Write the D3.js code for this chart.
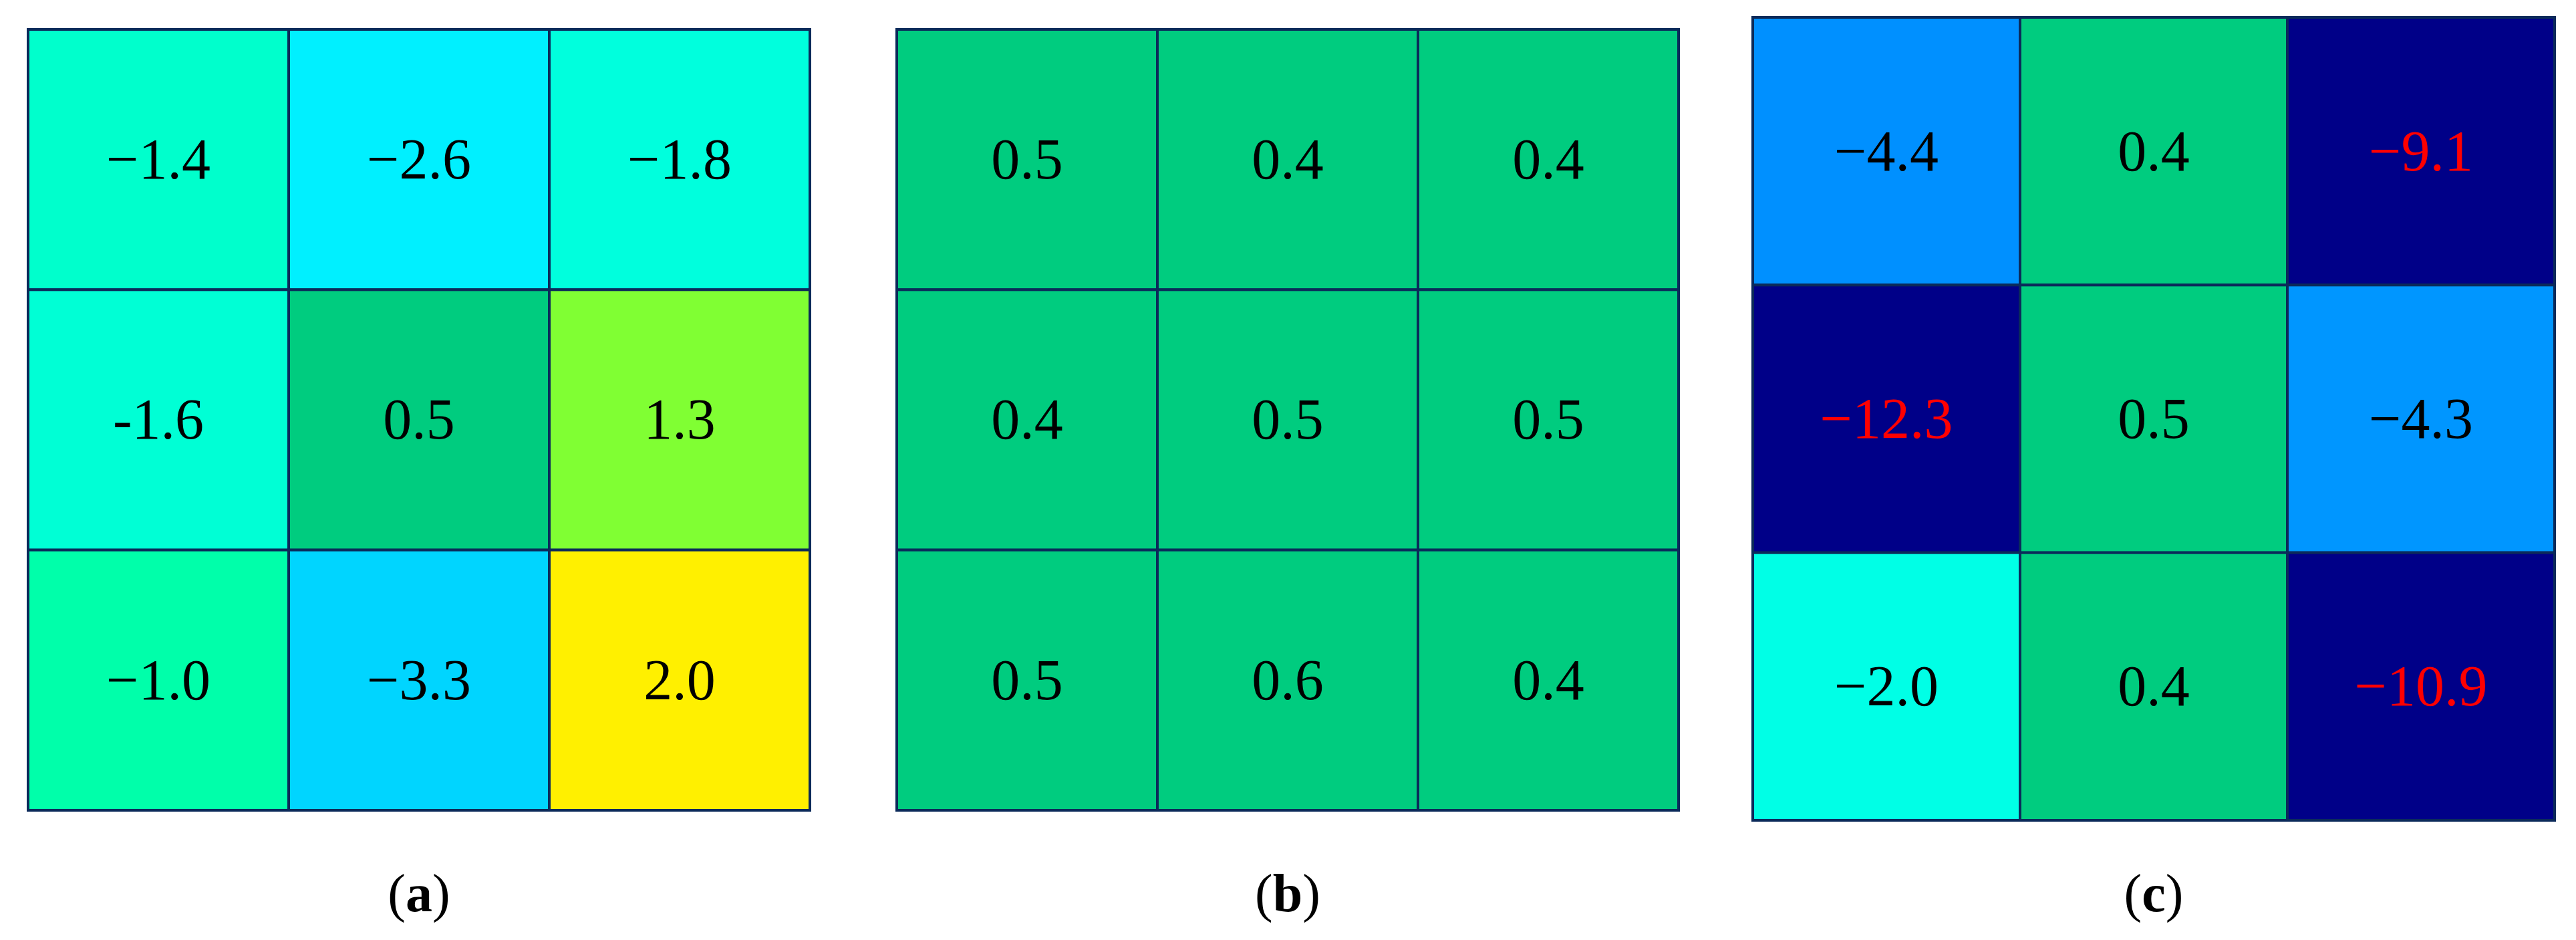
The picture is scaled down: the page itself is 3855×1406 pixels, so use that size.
<!DOCTYPE html>
<html>
<head>
<meta charset="utf-8">
<script src="https://cdn.jsdelivr.net/npm/d3@7"></script>
<style>
  html, body { margin: 0; padding: 0; background: #ffffff; }
  svg { display: block; }
</style>
</head>
<body>
<script>
// ---- data ----
const panelNames = ["(a)", "(b)", "(c)"];
const panelLetters = ["a", "b", "c"];
const rowsIdx = [0, 1, 2];
const colsIdx = [0, 1, 2];

const valuesA = [
  [-1.4, -2.6, -1.8],
  [-1.6,  0.5,  1.3],
  [-1.0, -3.3,  2.0]
];
const labelsA = [
  ["\u22121.4", "\u22122.6", "\u22121.8"],
  ["-1.6", "0.5", "1.3"],
  ["\u22121.0", "\u22123.3", "2.0"]
];
const valuesB = [
  [0.5, 0.4, 0.4],
  [0.4, 0.5, 0.5],
  [0.5, 0.6, 0.4]
];
const labelsB = [
  ["0.5", "0.4", "0.4"],
  ["0.4", "0.5", "0.5"],
  ["0.5", "0.6", "0.4"]
];
const valuesC = [
  [-4.4,  0.4, -9.1],
  [-12.3, 0.5, -4.3],
  [-2.0,  0.4, -10.9]
];
const labelsC = [
  ["\u22124.4", "0.4", "\u22129.1"],
  ["\u221212.3", "0.5", "\u22124.3"],
  ["\u22122.0", "0.4", "\u221210.9"]
];

// colour map stops (value -> colour)
const colorStops = [-9.1, -4.4, -3.3, -2.6, -2.0, -1.4, -1.0, 0.4, 0.6, 1.3, 2.0];
const colorRange = ["#000088", "#0090ff", "#00d5ff", "#00f0ff", "#00ffe6", "#00ffcc",
                    "#00ffaa", "#00cc7f", "#00cc7f", "#80ff33", "#fff000"];
const redThreshold = -8;

// ---- layout ----
const W = 3855, H = 1406;
const panels = [
  { values: valuesA, labels: labelsA, x0: 42, x1: 1212, y0: 44, y1: 1212 },
  { values: valuesB, labels: labelsB, x0: 1342, x1: 2512, y0: 44, y1: 1212 },
  { values: valuesC, labels: labelsC, x0: 2623, x1: 3823, y0: 26, y1: 1227 }
];
const captionY = 1363;
const cellFont = 86;
const capFont = 80;
const gridColor = "#0b2a5a";

const color = d3.scaleLinear().domain(colorStops).range(colorRange).clamp(true);

const svg = d3.select("body").append("svg")
  .attr("width", W).attr("height", H)
  .attr("viewBox", `0 0 ${W} ${H}`);

panels.forEach((p, pi) => {
  const x = d3.scaleBand().domain(colsIdx).range([p.x0, p.x1]);
  const y = d3.scaleBand().domain(rowsIdx).range([p.y0, p.y1]);
  const g = svg.append("g").attr("class", "panel-" + panelLetters[pi]);

  const cells = [];
  rowsIdx.forEach(r => colsIdx.forEach(c => cells.push({ r, c, v: p.values[r][c], t: p.labels[r][c] })));

  g.selectAll("rect.cell").data(cells).join("rect")
    .attr("class", "cell")
    .attr("x", d => x(d.c)).attr("y", d => y(d.r))
    .attr("width", x.bandwidth()).attr("height", y.bandwidth())
    .attr("fill", d => color(d.v))
    .attr("stroke", gridColor).attr("stroke-width", 4);

  g.selectAll("text.val").data(cells).join("text")
    .attr("class", "val")
    .attr("x", d => x(d.c) + x.bandwidth() / 2)
    .attr("y", d => y(d.r) + y.bandwidth() / 2 + cellFont * 0.33)
    .attr("text-anchor", "middle")
    .attr("font-family", "'Liberation Serif', 'Times New Roman', serif")
    .attr("font-size", cellFont)
    .attr("fill", d => d.v < redThreshold ? "#ff0000" : "#000000")
    .text(d => d.t);

  const cap = svg.append("text")
    .attr("x", (p.x0 + p.x1) / 2).attr("y", captionY)
    .attr("text-anchor", "middle")
    .attr("font-family", "'Liberation Serif', 'Times New Roman', serif")
    .attr("font-size", capFont)
    .attr("fill", "#000");
  cap.append("tspan").text("(");
  cap.append("tspan").attr("font-weight", "bold").text(panelLetters[pi]);
  cap.append("tspan").text(")");
});
</script>
</body>
</html>
